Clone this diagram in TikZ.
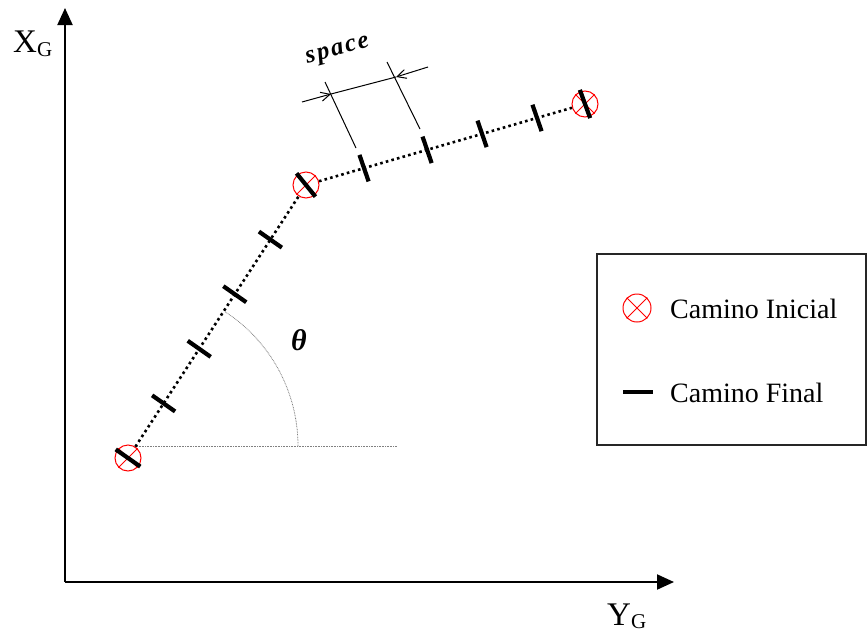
\documentclass[tikz,border=0pt]{standalone}
\usepackage{fontspec}
\setmainfont{Liberation Serif}
\usetikzlibrary{arrows.meta,calc}
\tikzset{
  marker/.style={circle,draw=red,line width=1pt,minimum size=26pt,inner sep=0pt},
  tickmark/.style={line width=4.2pt,black},
  pathline/.style={black,line width=2.6pt,dash pattern=on 2.6pt off 3.2pt},
  refline/.style={gray,line width=0.8pt,dash pattern=on 0.8pt off 0.8pt},
  dimline/.style={black,line width=1pt},
  axisline/.style={black,line width=2pt,-{Triangle[length=17pt,width=15pt]}},
  legendbox/.style={draw=black!85,line width=1.5pt},
  lab/.style={font=\fontsize{28}{32}\selectfont,anchor=base west,inner sep=0pt},
  axlab/.style={font=\fontsize{33}{36}\selectfont,anchor=base west,inner sep=0pt}
}
\newcommand{\crossmark}[1]{\draw[red,line width=0.8pt] (#1.north east)--(#1.south west) (#1.north west)--(#1.south east);}
\newcommand{\tickat}[3]{\draw[tickmark] (#1) ++(#2:#3) -- ++(#2+180:2*#3);}
\begin{document}
\begin{tikzpicture}[x=1pt,y=-1pt]
\useasboundingbox (0,0) rectangle (867,632);
% axes
\coordinate (O) at (65,582);
\coordinate (ytip) at (65,8);
\coordinate (xtip) at (674,582);
\draw[axisline] (O) -- (ytip);
\draw[axisline] (O) -- (xtip);
\node[axlab] (xg) at (13,52) {X\raisebox{-4pt}{\fontsize{21}{22}\selectfont G}};
\node[axlab] (yg) at (607,625) {Y\raisebox{-3pt}{\fontsize{21}{22}\selectfont G}};
% reference lines and angle
\coordinate (h1) at (137,446);
\coordinate (h2) at (298,446);
\coordinate (h3) at (397,446);
\draw[refline] (h1) -- (h3);
\draw[refline] (h2) arc[start angle=0,end angle=-57,radius=160];
\node[font=\fontsize{30}{32}\selectfont\bfseries\itshape] (theta) at (299,340) {θ};
% path points
\node[marker] (A) at (128,458) {};
\node[marker] (B) at (306,185) {};
\node[marker] (C) at (585,104) {};
\crossmark{A}\crossmark{B}\crossmark{C}
\draw[pathline] (A) -- (B);
\draw[pathline] (B) -- (C);
% ticks
\coordinate (ab1) at ($(A)!0.2!(B)$);
\coordinate (ab2) at ($(A)!0.4!(B)$);
\coordinate (ab3) at ($(A)!0.6!(B)$);
\coordinate (ab4) at ($(A)!0.8!(B)$);
\coordinate (bc1) at ($(B)!0.208!(C)$);
\coordinate (bc2) at ($(B)!0.434!(C)$);
\coordinate (bc3) at ($(B)!0.631!(C)$);
\coordinate (bc4) at ($(B)!0.828!(C)$);
\tickat{A}{35}{15}
\tickat{ab1}{35}{14}\tickat{ab2}{35}{14}\tickat{ab3}{35}{14}\tickat{ab4}{35}{14}
\tickat{B}{51}{15}
\tickat{bc1}{71}{14}\tickat{bc2}{71}{14}\tickat{bc3}{71}{14}\tickat{bc4}{71}{14}
\tickat{C}{70}{15}
% dimension "space"
\coordinate (e1a) at (356,148);
\coordinate (e1b) at (325,82);
\coordinate (e2a) at (420,129);
\coordinate (e2b) at (387,62);
\coordinate (d1) at (302,102);
\coordinate (d2) at (428,67);
\coordinate (p1) at (331,94);
\coordinate (p2) at (396,77);
\draw[dimline] (e1a) -- (e1b);
\draw[dimline] (e2a) -- (e2b);
\draw[dimline] (p1) -- (p2);
\draw[dimline,-{Straight Barb[length=9pt,width=9pt]}] (d1) -- (p1);
\draw[dimline,-{Straight Barb[length=9pt,width=9pt]}] (d2) -- (p2);
\node[font=\fontsize{25}{28}\selectfont\bfseries\itshape\addfontfeature{LetterSpace=8},rotate=15] (space) at (338,52) {space};
% legend
\draw[legendbox] (597,254) rectangle (866,445);
\node[marker,minimum size=28pt] (lm) at (637,308) {};
\crossmark{lm}
\node[lab] (l1) at (670,318) {Camino Inicial};
\coordinate (ld1) at (623,392);
\coordinate (ld2) at (653,392);
\draw[tickmark] (ld1) -- (ld2);
\node[lab] (l2) at (670,402) {Camino Final};
\end{tikzpicture}
\end{document}
